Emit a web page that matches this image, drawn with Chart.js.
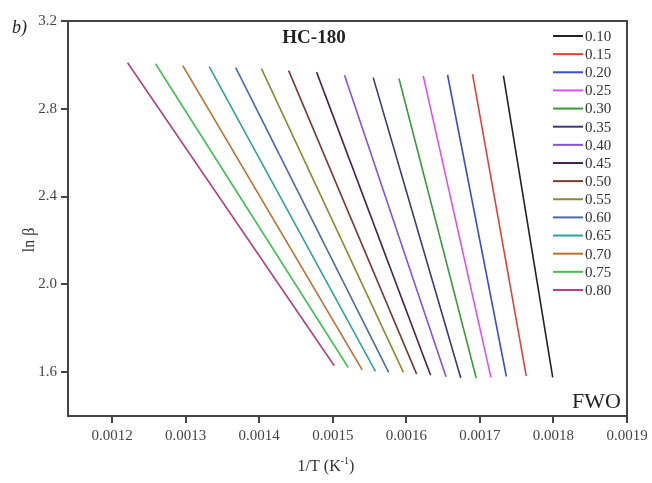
<!DOCTYPE html>
<html>
<head>
<meta charset="utf-8">
<script src="https://cdn.jsdelivr.net/npm/chart.js@4.4.1/dist/chart.umd.min.js"></script>
<style>
  html, body { margin: 0; padding: 0; background: #fff; }
  #wrap { width: 652px; height: 483px; }
</style>
</head>
<body>
<div id="wrap"><canvas id="fwo-chart"></canvas></div>
<script>
// conversion degrees (alpha) and the end points of each FWO fit line
const alphas = ["0.10", "0.15", "0.20", "0.25", "0.30", "0.35", "0.40", "0.45", "0.50", "0.55", "0.60", "0.65", "0.70", "0.75", "0.80"];
const topX = [0.001732, 0.00169, 0.001656, 0.001623, 0.00159, 0.001555, 0.001516, 0.001478, 0.00144, 0.001403, 0.001368, 0.001332, 0.001296, 0.001259, 0.001221];
const topY = [2.951, 2.958, 2.955, 2.95, 2.938, 2.942, 2.953, 2.967, 2.974, 2.983, 2.988, 2.992, 2.997, 3.005, 3.01];
const bottomX = [0.001799, 0.001763, 0.001736, 0.001715, 0.001695, 0.001674, 0.001654, 0.001633, 0.001614, 0.001596, 0.001576, 0.001558, 0.00154, 0.001521, 0.001502];
const bottomY = [1.576, 1.583, 1.58, 1.576, 1.573, 1.573, 1.579, 1.586, 1.591, 1.599, 1.599, 1.603, 1.61, 1.621, 1.629];
const lineColors = ["#222222", "#e0423a", "#3a4fc8", "#e050e8", "#3a9a3a", "#3a3a7a", "#8a50d8", "#4a2050", "#7a3a30", "#8a8a30", "#4a6aa8", "#30a0a0", "#b87030", "#40c050", "#b04080"];
const xTicks = [0.0012, 0.0013, 0.0014, 0.0015, 0.0016, 0.0017, 0.0018, 0.0019];
const yTicks = [1.6, 2.0, 2.4, 2.8, 3.2];

const serif = "'Liberation Serif', 'Times New Roman', serif";
const axisGrey = "#444";

const datasets = alphas.map((a, i) => ({
  label: a,
  data: [
    { x: topX[i], y: topY[i] },
    { x: bottomX[i], y: bottomY[i] },
  ],
  borderColor: lineColors[i],
  borderWidth: 1.6,
  showLine: true,
  pointRadius: 0,
  fill: false,
}));

// frame, in-plot legend and free text
const decorations = {
  id: "decorations",
  afterDraw(chart) {
    const { ctx, chartArea: a } = chart;
    ctx.save();
    ctx.strokeStyle = axisGrey;
    ctx.lineWidth = 2;
    ctx.strokeRect(a.left, a.top, a.right - a.left, a.bottom - a.top);

    // legend
    ctx.font = "15px " + serif;
    ctx.textBaseline = "middle";
    ctx.textAlign = "left";
    chart.data.datasets.forEach((ds, i) => {
      const y = 36 + i * 18.14;
      ctx.strokeStyle = ds.borderColor;
      ctx.lineWidth = 2;
      ctx.beginPath();
      ctx.moveTo(553, y);
      ctx.lineTo(583, y);
      ctx.stroke();
      ctx.fillStyle = "#333";
      ctx.fillText(ds.label, 585, y + 1);
    });

    ctx.fillStyle = "#222";
    ctx.font = "italic 18px " + serif;
    ctx.fillText("b)", 12, 28);

    ctx.textAlign = "center";
    ctx.font = "bold 19px " + serif;
    ctx.fillText("HC-180", 314, 38);

    ctx.textAlign = "right";
    ctx.font = "22px " + serif;
    ctx.fillText("FWO", 621, 402);

    // axis titles
    ctx.fillStyle = "#333";
    ctx.textAlign = "left";
    ctx.font = "16px " + serif;
    const main = "1/T (K";
    const sup = "-1";
    const tail = ")";
    const wMain = ctx.measureText(main).width;
    const wTail = ctx.measureText(tail).width;
    ctx.font = "10px " + serif;
    const wSup = ctx.measureText(sup).width;
    let x = 326 - (wMain + wSup + wTail) / 2;
    ctx.font = "16px " + serif;
    ctx.fillText(main, x, 467);
    ctx.font = "10px " + serif;
    ctx.fillText(sup, x + wMain, 461);
    ctx.font = "16px " + serif;
    ctx.fillText(tail, x + wMain + wSup, 467);

    ctx.translate(30, 240);
    ctx.rotate(-Math.PI / 2);
    ctx.textAlign = "center";
    ctx.fillText("ln β", 0, 0);
    ctx.restore();
  },
};

new Chart(document.getElementById("fwo-chart"), {
  type: "scatter",
  data: { datasets },
  options: {
    responsive: true,
    maintainAspectRatio: false,
    animation: false,
    layout: { padding: { top: 21, right: 25, left: 0, bottom: 0 } },
    plugins: { legend: { display: false }, tooltip: { enabled: false } },
    scales: {
      x: {
        type: "linear",
        min: 0.00114,
        max: 0.0019,
        afterBuildTicks: (scale) => {
          scale.ticks = xTicks.map((v) => ({ value: v }));
        },
        afterFit: (scale) => {
          scale.height = 67;
        },
        border: { display: false },
        grid: { drawOnChartArea: false, drawTicks: true, tickLength: 7, color: axisGrey, lineWidth: 2 },
        ticks: {
          color: "#444",
          font: { family: serif, size: 15 },
          padding: 4,
          maxRotation: 0,
          callback: (v) => v.toFixed(4),
        },
      },
      y: {
        min: 1.4,
        max: 3.2,
        afterBuildTicks: (scale) => {
          scale.ticks = yTicks.map((v) => ({ value: v }));
        },
        afterFit: (scale) => {
          scale.width = 68;
        },
        border: { display: false },
        grid: { drawOnChartArea: false, drawTicks: true, tickLength: 7, color: axisGrey, lineWidth: 2 },
        ticks: {
          color: "#444",
          font: { family: serif, size: 15 },
          padding: 4,
          callback: (v) => v.toFixed(1),
        },
      },
    },
  },
  plugins: [decorations],
});
</script>
</body>
</html>
